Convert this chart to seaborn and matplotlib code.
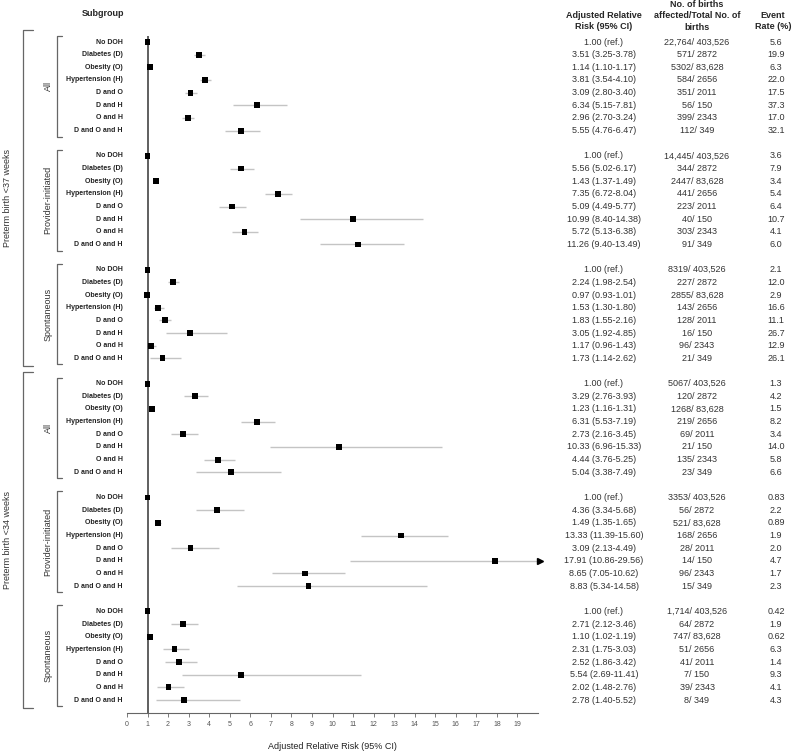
import numpy as np
import pandas as pd
import matplotlib
matplotlib.use("Agg")
import matplotlib.pyplot as plt
import matplotlib.transforms as mtransforms
import seaborn as sns

# --- Daten ---
subgroups = ["No DOH", "Diabetes (D)", "Obesity (O)", "Hypertension (H)",
             "D and O", "D and H", "O and H", "D and O and H"]
outcomes = ["Preterm birth <37 weeks", "Preterm birth <34 weeks"]
types = ["All", "Provider-initiated", "Spontaneous"]

# adjusted RR, lower/upper CI (None = reference)
rr_37_all = [1.00, 3.51, 1.14, 3.81, 3.09, 6.34, 2.96, 5.55]
lo_37_all = [None, 3.25, 1.10, 3.54, 2.80, 5.15, 2.70, 4.76]
hi_37_all = [None, 3.78, 1.17, 4.10, 3.40, 7.81, 3.24, 6.47]
rr_37_prov = [1.00, 5.56, 1.43, 7.35, 5.09, 10.99, 5.72, 11.26]
lo_37_prov = [None, 5.02, 1.37, 6.72, 4.49, 8.40, 5.13, 9.40]
hi_37_prov = [None, 6.17, 1.49, 8.04, 5.77, 14.38, 6.38, 13.49]
rr_37_spon = [1.00, 2.24, 0.97, 1.53, 1.83, 3.05, 1.17, 1.73]
lo_37_spon = [None, 1.98, 0.93, 1.30, 1.55, 1.92, 0.96, 1.14]
hi_37_spon = [None, 2.54, 1.01, 1.80, 2.16, 4.85, 1.43, 2.62]
rr_34_all = [1.00, 3.29, 1.23, 6.31, 2.73, 10.33, 4.44, 5.04]
lo_34_all = [None, 2.76, 1.16, 5.53, 2.16, 6.96, 3.76, 3.38]
hi_34_all = [None, 3.93, 1.31, 7.19, 3.45, 15.33, 5.25, 7.49]
rr_34_prov = [1.00, 4.36, 1.49, 13.33, 3.09, 17.91, 8.65, 8.83]
lo_34_prov = [None, 3.34, 1.35, 11.39, 2.13, 10.86, 7.05, 5.34]
hi_34_prov = [None, 5.68, 1.65, 15.60, 4.49, 29.56, 10.62, 14.58]
rr_34_spon = [1.00, 2.71, 1.10, 2.31, 2.52, 5.54, 2.02, 2.78]
lo_34_spon = [None, 2.12, 1.02, 1.75, 1.86, 2.69, 1.48, 1.40]
hi_34_spon = [None, 3.46, 1.19, 3.03, 3.42, 11.41, 2.76, 5.52]

births_37_all = ["22,764/ 403,526", "571/ 2872", "5302/ 83,628", "584/ 2656",
                 "351/ 2011", "56/ 150", "399/ 2343", "112/ 349"]
births_37_prov = ["14,445/ 403,526", "344/ 2872", "2447/ 83,628", "441/ 2656",
                  "223/ 2011", "40/ 150", "303/ 2343", "91/ 349"]
births_37_spon = ["8319/ 403,526", "227/ 2872", "2855/ 83,628", "143/ 2656",
                  "128/ 2011", "16/ 150", "96/ 2343", "21/ 349"]
births_34_all = ["5067/ 403,526", "120/ 2872", "1268/ 83,628", "219/ 2656",
                 "69/ 2011", "21/ 150", "135/ 2343", "23/ 349"]
births_34_prov = ["3353/ 403,526", "56/ 2872", "521/ 83,628", "168/ 2656",
                  "28/ 2011", "14/ 150", "96/ 2343", "15/ 349"]
births_34_spon = ["1,714/ 403,526", "64/ 2872", "747/ 83,628", "51/ 2656",
                  "41/ 2011", "7/ 150", "39/ 2343", "8/ 349"]

rate_37_all = ["5.6", "19.9", "6.3", "22.0", "17.5", "37.3", "17.0", "32.1"]
rate_37_prov = ["3.6", "7.9", "3.4", "5.4", "6.4", "10.7", "4.1", "6.0"]
rate_37_spon = ["2.1", "12.0", "2.9", "16.6", "11.1", "26.7", "12.9", "26.1"]
rate_34_all = ["1.3", "4.2", "1.5", "8.2", "3.4", "14.0", "5.8", "6.6"]
rate_34_prov = ["0.83", "2.2", "0.89", "1.9", "2.0", "4.7", "1.7", "2.3"]
rate_34_spon = ["0.42", "1.9", "0.62", "6.3", "1.4", "9.3", "4.1", "4.3"]

panels = [
    (rr_37_all, lo_37_all, hi_37_all, births_37_all, rate_37_all),
    (rr_37_prov, lo_37_prov, hi_37_prov, births_37_prov, rate_37_prov),
    (rr_37_spon, lo_37_spon, hi_37_spon, births_37_spon, rate_37_spon),
    (rr_34_all, lo_34_all, hi_34_all, births_34_all, rate_34_all),
    (rr_34_prov, lo_34_prov, hi_34_prov, births_34_prov, rate_34_prov),
    (rr_34_spon, lo_34_spon, hi_34_spon, births_34_spon, rate_34_spon),
]

rows = []
for g, (rr, lo, hi, bi, ra) in enumerate(panels):
    for i in range(len(subgroups)):
        rows.append({"row": g * 9 + i, "label": subgroups[i], "rr": rr[i],
                     "lo": np.nan if lo[i] is None else lo[i],
                     "hi": np.nan if hi[i] is None else hi[i],
                     "births": bi[i], "rate": ra[i]})
df = pd.DataFrame(rows)

XMAX = 20
W, H = 792, 753

sns.set_theme(style="white")
plt.rcParams["font.family"] = ["Liberation Sans", "DejaVu Sans"]

fig = plt.figure(figsize=(W / 100, H / 100), dpi=100)
ax = fig.add_axes([127 / W, 1 - 713 / H, 411 / W, (713 - 30) / H])

row0_y, row_step = 42, 12.654
y_top = (30 - row0_y) / row_step
y_bot = (713 - row0_y) / row_step
ax.set_xlim(0, XMAX)
ax.set_ylim(y_bot, y_top)

# CIs
ci = df.dropna(subset=["lo"])
ax.hlines(ci["row"], ci["lo"], ci["hi"].clip(upper=XMAX), color="#c4c4c4", lw=1, zorder=1)
over = ci[ci["hi"] > XMAX]
ax.plot([XMAX + 0.1] * len(over), over["row"], ls="none", marker=">", ms=4.5,
        color="black", clip_on=False, zorder=3)

# Referenzlinie bei RR = 1
ax.vlines(1, -0.45, y_bot, color="#444444", lw=1.2, zorder=2)

sns.scatterplot(data=df, x="rr", y="row", marker="s", color="black", s=18,
                edgecolor="none", legend=False, ax=ax, zorder=4)

for s in ["top", "right", "left"]:
    ax.spines[s].set_visible(False)
ax.spines["bottom"].set_color("#666666")
ax.spines["bottom"].set_linewidth(0.8)
ax.spines["bottom"].set_bounds(0, XMAX)
ax.set_xticks(range(0, 20))
ax.set_yticks([])
ax.tick_params(axis="x", bottom=True, length=3, width=0.6, color="#666666",
               labelsize=5, labelcolor="#555555", pad=3)
ax.set_xlabel("Adjusted Relative Risk (95% CI)", fontsize=6.5, labelpad=10, color="#222222")
ax.set_ylabel("")

# Text links / rechts
tr = mtransforms.blended_transform_factory(fig.transFigure, ax.transData)
def fx(px):
    return px / W

for _, r in df.iterrows():
    ax.text(fx(123), r["row"], r["label"], transform=tr, ha="right", va="center",
            fontsize=5, fontweight="bold", color="#222222")
    if np.isnan(r["lo"]):
        rr_txt = f"{r['rr']:.2f} (ref.)"
    else:
        rr_txt = f"{r['rr']:.2f} ({r['lo']:.2f}-{r['hi']:.2f})"
    ax.text(fx(604), r["row"], rr_txt, transform=tr, ha="center", va="center",
            fontsize=6.5, color="#333333")
    ax.text(fx(697), r["row"], r["births"], transform=tr, ha="center", va="center",
            fontsize=6.5, color="#333333")
    ax.text(fx(776), r["row"], r["rate"], transform=tr, ha="center", va="center",
            fontsize=6.5, color="#333333")

# Kopfzeilen
fig.text(fx(124), 1 - 14 / H, "Subgroup", ha="right", va="center", fontsize=6.5, fontweight="bold")
fig.text(fx(604), 1 - 21 / H, "Adjusted Relative\nRisk (95% CI)", ha="center", va="center",
         fontsize=6.5, fontweight="bold", linespacing=1.3)
fig.text(fx(697), 1 - 16 / H, "No. of births\naffected/Total No. of\nbirths", ha="center",
         va="center", fontsize=6.5, fontweight="bold", linespacing=1.3)
fig.text(fx(773), 1 - 21 / H, "Event\nRate (%)", ha="center", va="center",
         fontsize=6.5, fontweight="bold", linespacing=1.3)

# Klammern
br_col = "#666666"
for g in range(6):
    y0, y1 = g * 9 - 0.48, g * 9 + 7.48
    ax.plot([fx(62), fx(57), fx(57), fx(62)], [y0, y0, y1, y1], transform=tr,
            color=br_col, lw=0.9, clip_on=False)
    ax.text(fx(48), g * 9 + 3.5, types[g % 3], transform=tr, rotation=90,
            ha="center", va="center", fontsize=6.5, color="#333333")

for k in range(2):
    y0, y1 = k * 27 - 0.95, k * 27 + 25.6
    ax.plot([fx(33), fx(23), fx(23), fx(33)], [y0, y0, y1, y1], transform=tr,
            color=br_col, lw=0.9, clip_on=False)
    ax.text(fx(8), (y0 + y1) / 2, outcomes[k], transform=tr, rotation=90,
            ha="center", va="center", fontsize=6.5, color="#333333")

fig.savefig("out.png", dpi=100)
